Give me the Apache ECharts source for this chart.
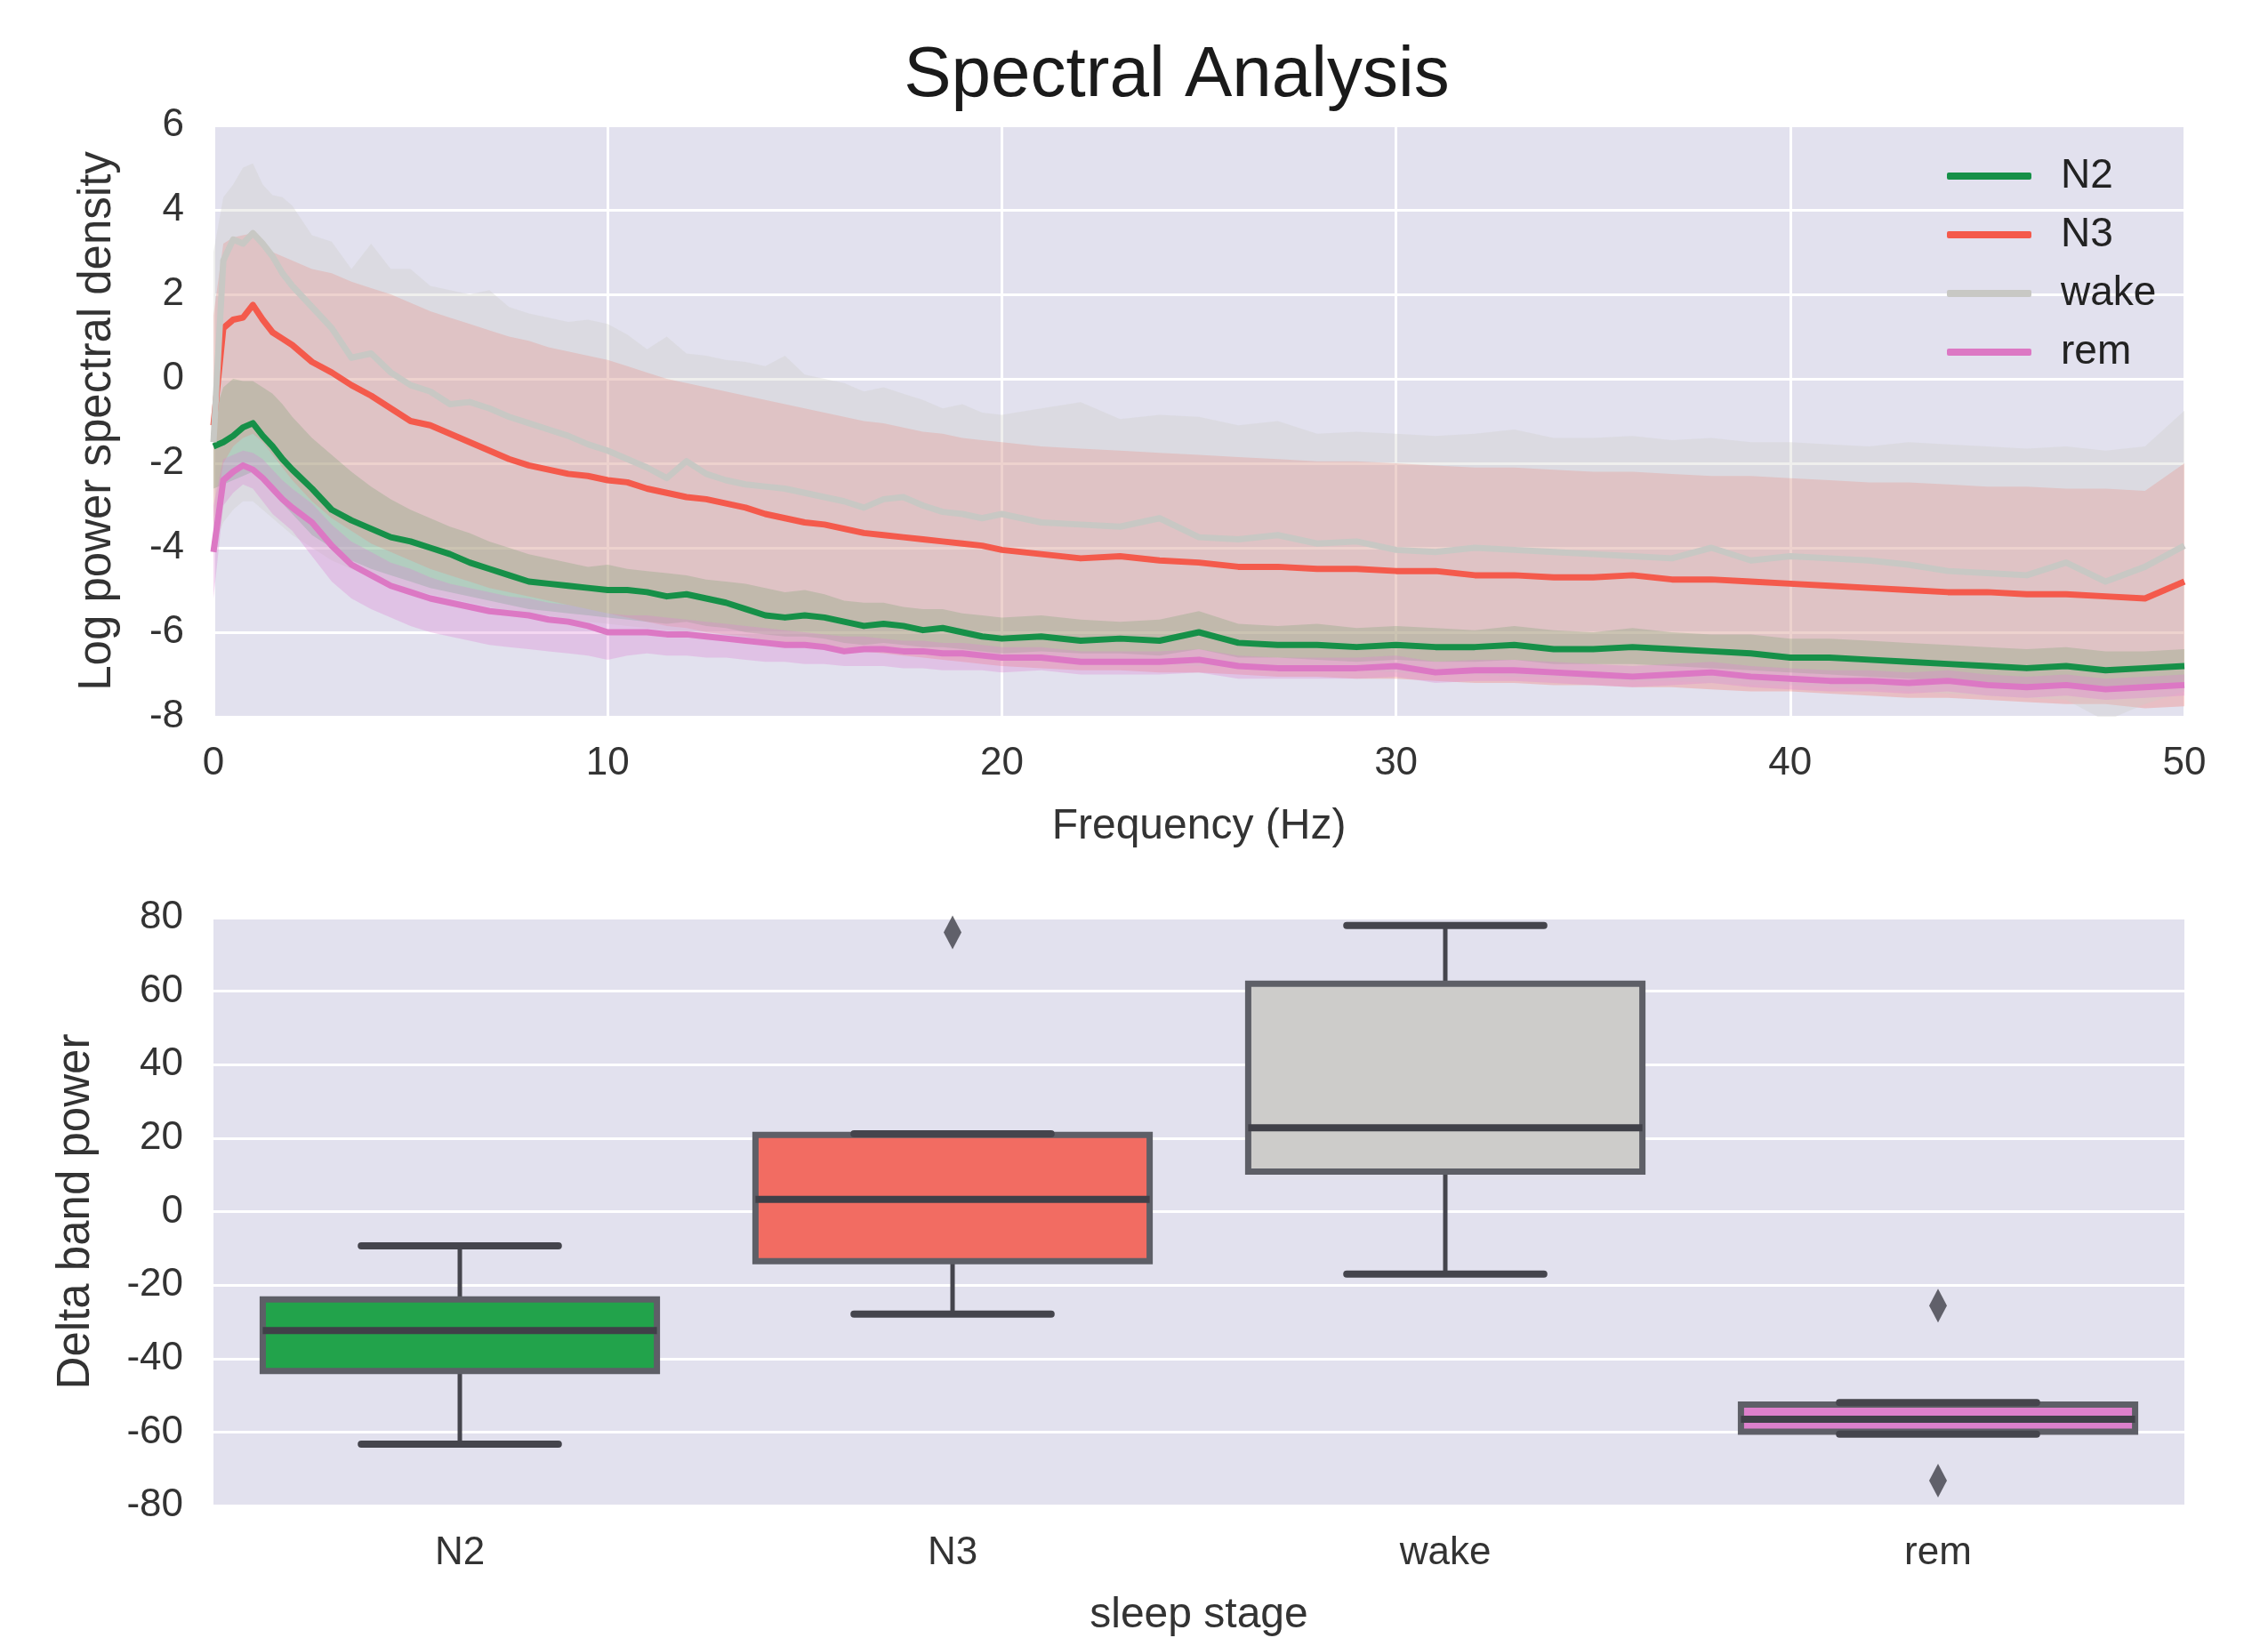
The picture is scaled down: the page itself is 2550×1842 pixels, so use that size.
<!DOCTYPE html>
<html><head><meta charset="utf-8">
<script src="https://cdn.jsdelivr.net/npm/echarts@6/dist/echarts.min.js"></script>
<style>html,body{margin:0;padding:0;background:#fff}#c{width:2550px;height:1842px}</style>
</head><body><div id="c"></div>
<script>
// ---------- DATA ----------
const freqs = [0,0.25,0.5,0.75,1,1.25,1.5,1.75,2,
  2.5,3,3.5,4,4.5,5,5.5,6,6.5,7,7.5,8,8.5,9,9.5,10,10.5,11,11.5,12,12.5,13,13.5,14,14.5,15,15.5,16,16.5,17,17.5,18,18.5,19,19.5,20,
  21,22,23,24,25,26,27,28,29,30,31,32,33,34,35,36,37,38,39,40,41,42,43,44,45,46,47,48,49,50];

const n2Mean = [-1.6,-1.5,-1.35,-1.15,-1.05,-1.35,-1.6,-1.9,-2.15,
  -2.6,-3.1,-3.35,-3.55,-3.75,-3.85,-4.0,-4.15,-4.35,-4.5,-4.65,-4.8,-4.85,-4.9,-4.95,-5.0,-5.0,-5.05,-5.15,-5.1,-5.2,-5.3,-5.45,-5.6,-5.65,-5.6,-5.65,-5.75,-5.85,-5.8,-5.85,-5.95,-5.9,-6.0,-6.1,-6.15,
  -6.1,-6.2,-6.15,-6.2,-6.0,-6.25,-6.3,-6.3,-6.35,-6.3,-6.35,-6.35,-6.3,-6.4,-6.4,-6.35,-6.4,-6.45,-6.5,-6.6,-6.6,-6.65,-6.7,-6.75,-6.8,-6.85,-6.8,-6.9,-6.85,-6.8];
const n2Upper = [-0.9,-0.2,0.0,-0.05,-0.05,-0.2,-0.35,-0.6,-0.9,
  -1.4,-1.8,-2.2,-2.55,-2.85,-3.1,-3.3,-3.5,-3.65,-3.85,-4.0,-4.15,-4.25,-4.35,-4.45,-4.4,-4.5,-4.55,-4.6,-4.65,-4.75,-4.8,-4.85,-4.95,-5.05,-5.0,-5.1,-5.25,-5.3,-5.3,-5.4,-5.45,-5.45,-5.55,-5.6,-5.65,
  -5.6,-5.7,-5.75,-5.7,-5.5,-5.8,-5.85,-5.8,-5.9,-5.85,-5.9,-5.95,-5.85,-5.95,-6.0,-5.9,-6.0,-6.05,-6.05,-6.15,-6.15,-6.2,-6.25,-6.3,-6.35,-6.4,-6.35,-6.45,-6.45,-6.4];
const n2Lower = [-2.6,-2.5,-2.4,-2.3,-2.2,-2.4,-2.7,-2.95,-3.2,
  -3.7,-4.0,-4.3,-4.5,-4.65,-4.8,-4.95,-5.05,-5.15,-5.25,-5.35,-5.45,-5.5,-5.55,-5.6,-5.65,-5.7,-5.75,-5.8,-5.75,-5.85,-5.9,-6.0,-6.05,-6.1,-6.1,-6.15,-6.25,-6.3,-6.25,-6.3,-6.35,-6.35,-6.4,-6.45,-6.5,
  -6.45,-6.5,-6.5,-6.55,-6.4,-6.6,-6.6,-6.65,-6.7,-6.65,-6.7,-6.7,-6.65,-6.75,-6.75,-6.75,-6.8,-6.85,-6.9,-6.95,-7.0,-7.05,-7.1,-7.15,-7.2,-7.25,-7.2,-7.3,-7.25,-7.2];

const n3Mean = [-1.1,1.2,1.4,1.45,1.75,1.4,1.1,0.95,0.8,
  0.4,0.15,-0.15,-0.4,-0.7,-1.0,-1.1,-1.3,-1.5,-1.7,-1.9,-2.05,-2.15,-2.25,-2.3,-2.4,-2.45,-2.6,-2.7,-2.8,-2.85,-2.95,-3.05,-3.2,-3.3,-3.4,-3.45,-3.55,-3.65,-3.7,-3.75,-3.8,-3.85,-3.9,-3.95,-4.05,
  -4.15,-4.25,-4.2,-4.3,-4.35,-4.45,-4.45,-4.5,-4.5,-4.55,-4.55,-4.65,-4.65,-4.7,-4.7,-4.65,-4.75,-4.75,-4.8,-4.85,-4.9,-4.95,-5.0,-5.05,-5.05,-5.1,-5.1,-5.15,-5.2,-4.8];
const n3Upper = [1.5,3.2,3.35,3.4,3.45,3.2,3.0,2.9,2.8,
  2.6,2.5,2.3,2.15,2.0,1.8,1.6,1.45,1.3,1.15,1.0,0.9,0.75,0.65,0.55,0.45,0.3,0.15,0.0,-0.1,-0.2,-0.3,-0.4,-0.5,-0.6,-0.7,-0.8,-0.9,-1.0,-1.05,-1.15,-1.25,-1.3,-1.4,-1.45,-1.5,
  -1.6,-1.65,-1.7,-1.75,-1.8,-1.85,-1.9,-1.95,-1.95,-2.0,-2.05,-2.1,-2.1,-2.15,-2.2,-2.2,-2.25,-2.3,-2.3,-2.35,-2.4,-2.45,-2.45,-2.5,-2.55,-2.55,-2.6,-2.6,-2.65,-2.0];
const n3Lower = [-3.5,-2.0,-1.6,-1.4,-1.3,-1.5,-1.8,-2.1,-2.4,
  -2.9,-3.3,-3.6,-3.9,-4.1,-4.3,-4.5,-4.65,-4.8,-4.95,-5.05,-5.15,-5.25,-5.35,-5.45,-5.55,-5.65,-5.75,-5.85,-5.9,-6.0,-6.05,-6.1,-6.2,-6.25,-6.3,-6.35,-6.4,-6.45,-6.5,-6.55,-6.6,-6.65,-6.7,-6.75,-6.8,
  -6.85,-6.9,-6.9,-6.95,-6.95,-7.0,-7.05,-7.05,-7.1,-7.1,-7.15,-7.2,-7.2,-7.25,-7.25,-7.3,-7.3,-7.35,-7.4,-7.4,-7.45,-7.5,-7.55,-7.55,-7.6,-7.65,-7.7,-7.7,-7.8,-7.75];

const wakeMean = [-1.5,2.8,3.3,3.2,3.45,3.2,2.9,2.5,2.2,
  1.7,1.2,0.5,0.6,0.15,-0.15,-0.3,-0.6,-0.55,-0.7,-0.9,-1.05,-1.2,-1.35,-1.55,-1.7,-1.9,-2.1,-2.35,-1.95,-2.25,-2.4,-2.5,-2.55,-2.6,-2.7,-2.8,-2.9,-3.05,-2.85,-2.8,-3.0,-3.15,-3.2,-3.3,-3.2,
  -3.4,-3.45,-3.5,-3.3,-3.75,-3.8,-3.7,-3.9,-3.85,-4.05,-4.1,-4.0,-4.05,-4.1,-4.15,-4.2,-4.25,-4.0,-4.3,-4.2,-4.25,-4.3,-4.4,-4.55,-4.6,-4.65,-4.35,-4.8,-4.45,-3.95];
const wakeUpper = [3.0,4.3,4.6,5.0,5.1,4.6,4.35,4.3,4.1,
  3.4,3.25,2.6,3.2,2.6,2.6,2.2,2.1,2.0,2.1,1.7,1.55,1.45,1.35,1.4,1.3,1.05,0.7,1.0,0.6,0.55,0.45,0.4,0.3,0.55,0.1,0.0,-0.1,-0.3,-0.2,-0.35,-0.5,-0.7,-0.6,-0.8,-0.85,
  -0.7,-0.55,-0.95,-0.85,-0.9,-1.1,-1.0,-1.3,-1.25,-1.3,-1.35,-1.3,-1.2,-1.4,-1.4,-1.35,-1.45,-1.4,-1.5,-1.5,-1.55,-1.6,-1.5,-1.55,-1.6,-1.65,-1.6,-1.7,-1.6,-0.75];
const wakeLower = [-4.0,-3.4,-3.1,-2.9,-2.9,-3.1,-3.3,-3.5,-3.7,
  -4.0,-4.3,-4.5,-4.7,-4.85,-5.0,-5.1,-5.2,-5.3,-5.4,-5.5,-5.55,-5.6,-5.7,-5.75,-5.8,-5.85,-5.9,-5.95,-6.0,-6.05,-6.1,-6.15,-6.2,-6.2,-6.25,-6.3,-6.35,-6.35,-6.4,-6.45,-6.5,-6.5,-6.55,-6.55,-6.6,
  -6.65,-6.7,-6.7,-6.75,-6.8,-6.8,-6.85,-6.9,-6.9,-6.95,-7.0,-7.0,-7.05,-7.05,-7.1,-7.15,-7.15,-7.2,-7.25,-7.25,-7.3,-7.35,-7.4,-7.45,-7.5,-7.55,-7.6,-8.1,-7.7,-7.4];

const remMean = [-4.1,-2.4,-2.2,-2.05,-2.15,-2.35,-2.6,-2.85,-3.05,
  -3.4,-3.95,-4.4,-4.65,-4.9,-5.05,-5.2,-5.3,-5.4,-5.5,-5.55,-5.6,-5.7,-5.75,-5.85,-6.0,-6.0,-6.0,-6.05,-6.05,-6.1,-6.15,-6.2,-6.25,-6.3,-6.3,-6.35,-6.45,-6.4,-6.4,-6.45,-6.45,-6.5,-6.5,-6.55,-6.6,
  -6.6,-6.7,-6.7,-6.7,-6.65,-6.8,-6.85,-6.85,-6.85,-6.8,-6.95,-6.9,-6.9,-6.95,-7.0,-7.05,-7.0,-6.95,-7.05,-7.1,-7.15,-7.15,-7.2,-7.15,-7.25,-7.3,-7.25,-7.35,-7.3,-7.25];
const remUpper = [-3.0,-1.9,-1.8,-1.7,-1.75,-1.9,-2.15,-2.4,-2.6,
  -2.95,-3.45,-3.85,-4.1,-4.35,-4.5,-4.7,-4.85,-4.95,-5.05,-5.15,-5.2,-5.3,-5.35,-5.45,-5.55,-5.6,-5.6,-5.65,-5.7,-5.75,-5.8,-5.85,-5.9,-5.95,-6.0,-6.05,-6.1,-6.1,-6.15,-6.2,-6.2,-6.25,-6.25,-6.3,-6.35,
  -6.35,-6.45,-6.45,-6.45,-6.4,-6.55,-6.6,-6.6,-6.6,-6.55,-6.7,-6.65,-6.65,-6.7,-6.75,-6.8,-6.75,-6.7,-6.8,-6.85,-6.9,-6.9,-6.95,-6.9,-7.0,-7.05,-7.0,-7.1,-7.05,-7.0];
const remLower = [-5.2,-3.0,-2.7,-2.5,-2.6,-2.9,-3.2,-3.4,-3.6,
  -4.2,-4.8,-5.2,-5.45,-5.65,-5.85,-6.0,-6.1,-6.2,-6.3,-6.35,-6.4,-6.45,-6.5,-6.55,-6.65,-6.55,-6.5,-6.55,-6.55,-6.6,-6.6,-6.65,-6.7,-6.7,-6.75,-6.75,-6.8,-6.8,-6.8,-6.85,-6.85,-6.9,-6.9,-6.9,-6.95,
  -6.9,-7.0,-7.0,-7.0,-6.95,-7.1,-7.1,-7.1,-7.1,-7.05,-7.2,-7.15,-7.15,-7.2,-7.25,-7.3,-7.25,-7.2,-7.3,-7.35,-7.4,-7.4,-7.45,-7.4,-7.5,-7.55,-7.5,-7.6,-7.55,-7.5];

const stages = ['N2', 'N3', 'wake', 'rem'];
// box stats: [lowerWhisker, Q1, median, Q3, upperWhisker]
const boxN2 = [-63.3, -43.4, -32.4, -23.9, -9.3];
const boxN3 = [-27.9, -13.5, 3.3, 20.9, 21.2];
const boxWake = [-17.0, 10.9, 22.8, 62.0, 77.9];
const boxRem = [-60.6, -59.9, -56.5, -52.5, -52.0];
const outliers = [['N3', 76.0], ['rem', -25.6], ['rem', -73.2]];

// ---------- STYLE ----------
const FONT = 'Liberation Sans';
const lineColors = { N2: '#169048', N3: '#f45a4c', wake: '#c8c8c4', rem: '#dc78c4' };
const bandColors = { N2: 'rgba(22,160,72,0.30)', N3: 'rgba(248,100,90,0.28)', wake: 'rgba(205,205,200,0.32)', rem: 'rgba(222,130,210,0.32)' };
const boxColors = { N2: '#22a34b', N3: '#f26c62', wake: '#cdccca', rem: '#dd80cc' };
const bg = '#e2e1ee';
const tickColor = '#333333';

const spectra = {
  N2: { mean: n2Mean, up: n2Upper, lo: n2Lower },
  N3: { mean: n3Mean, up: n3Upper, lo: n3Lower },
  wake: { mean: wakeMean, up: wakeUpper, lo: wakeLower },
  rem: { mean: remMean, up: remUpper, lo: remLower }
};
const boxes = { N2: boxN2, N3: boxN3, wake: boxWake, rem: boxRem };

const series = [];
// confidence bands as polygons (upper edge forward, lower edge back)
stages.forEach(s => {
  const d = spectra[s];
  series.push({
    type: 'custom', name: s + ' band', xAxisIndex: 0, yAxisIndex: 0, clip: true, silent: true, z: 1, animation: false,
    data: freqs.map((f, i) => [f, d.lo[i], d.up[i]]),
    renderItem: function (params, api) {
      if (params.dataIndex !== 0) return null;
      const pts = [];
      for (let i = 0; i < freqs.length; i++) pts.push(api.coord([freqs[i], d.up[i]]));
      for (let i = freqs.length - 1; i >= 0; i--) pts.push(api.coord([freqs[i], d.lo[i]]));
      return { type: 'polygon', shape: { points: pts }, style: { fill: bandColors[s] } };
    }
  });
});
stages.forEach(s => {
  series.push({
    type: 'line', name: s, xAxisIndex: 0, yAxisIndex: 0,
    data: freqs.map((f, i) => [f, spectra[s].mean[i]]), showSymbol: false,
    lineStyle: { width: 7, color: lineColors[s], join: 'round' }, itemStyle: { color: lineColors[s] }, z: 3, animation: false
  });
});

series.push({
  type: 'custom', xAxisIndex: 1, yAxisIndex: 1, animation: false, z: 3,
  data: stages.map(s => [s].concat(boxes[s])),
  renderItem: function (params, api) {
    const cat = api.value(0);
    const lo = api.value(1), q1 = api.value(2), med = api.value(3), q3 = api.value(4), hi = api.value(5);
    const pMed = api.coord([cat, med]);
    const cx = pMed[0];
    const bw = api.size([1, 0])[0] * 0.8;
    const yq1 = api.coord([cat, q1])[1], yq3 = api.coord([cat, q3])[1];
    const ylo = api.coord([cat, lo])[1], yhi = api.coord([cat, hi])[1];
    const s = stages[params.dataIndex];
    const wStyle = { stroke: '#45454d', lineWidth: 5 };
    const capStyle = { stroke: '#45454d', lineWidth: 8, lineCap: 'round' };
    return {
      type: 'group', children: [
        { type: 'line', shape: { x1: cx, y1: yq3, x2: cx, y2: yhi }, style: wStyle },
        { type: 'line', shape: { x1: cx, y1: yq1, x2: cx, y2: ylo }, style: wStyle },
        { type: 'rect', shape: { x: cx - bw / 2, y: yq3, width: bw, height: yq1 - yq3 },
          style: { fill: boxColors[s], stroke: '#5e5f67', lineWidth: 7 } },
        { type: 'line', shape: { x1: cx - bw / 2, y1: pMed[1], x2: cx + bw / 2, y2: pMed[1] }, style: { stroke: '#404048', lineWidth: 8 } },
        { type: 'line', shape: { x1: cx - bw / 4, y1: yhi, x2: cx + bw / 4, y2: yhi }, style: capStyle },
        { type: 'line', shape: { x1: cx - bw / 4, y1: ylo, x2: cx + bw / 4, y2: ylo }, style: capStyle }
      ]
    };
  }
});
series.push({
  type: 'scatter', xAxisIndex: 1, yAxisIndex: 1, data: outliers, z: 4, animation: false,
  symbol: 'path://M0,-1L0.55,0L0,1L-0.55,0Z', symbolSize: [20, 38], itemStyle: { color: '#404048' }
});

const chart = echarts.init(document.getElementById('c'), null, { renderer: 'canvas' });
chart.setOption({
  backgroundColor: '#ffffff',
  textStyle: { fontFamily: FONT },
  animation: false,
  graphic: [{
    type: 'text', x: 1323, y: 86,
    style: { text: 'Spectral Analysis', fontSize: 80, fontFamily: FONT, fill: '#1a1a1a', textAlign: 'center', textVerticalAlign: 'middle' }
  }],
  legend: {
    data: stages, orient: 'vertical', left: 2184, top: 170, itemWidth: 95, itemHeight: 8, itemGap: 20,
    icon: 'roundRect',
    textStyle: { fontSize: 46, color: '#222222', fontFamily: FONT, lineHeight: 46, padding: [0, 0, 0, 28] }
  },
  grid: [
    { left: 240, top: 141, width: 2216, height: 665, backgroundColor: bg, show: true, borderWidth: 0 },
    { left: 240, top: 1032, width: 2216, height: 665, backgroundColor: bg, show: true, borderWidth: 0 }
  ],
  xAxis: [
    { gridIndex: 0, type: 'value', min: 0, max: 50, interval: 10,
      axisLine: { show: false }, axisTick: { show: false },
      axisLabel: { fontSize: 44, color: tickColor, margin: 31 },
      splitLine: { show: true, lineStyle: { color: '#ffffff', width: 3 } },
      name: 'Frequency (Hz)', nameLocation: 'middle', nameGap: 100,
      nameTextStyle: { fontSize: 48, color: tickColor } },
    { gridIndex: 1, type: 'category', data: stages, boundaryGap: true,
      axisLine: { show: false }, axisTick: { show: false },
      axisLabel: { fontSize: 44, color: tickColor, margin: 32 },
      splitLine: { show: false },
      name: 'sleep stage', nameLocation: 'middle', nameGap: 100,
      nameTextStyle: { fontSize: 48, color: tickColor } }
  ],
  yAxis: [
    { gridIndex: 0, type: 'value', min: -8, max: 6, interval: 2,
      axisLine: { show: false }, axisTick: { show: false },
      axisLabel: { fontSize: 44, color: tickColor, margin: 33 },
      splitLine: { show: true, lineStyle: { color: '#ffffff', width: 3 } },
      name: 'Log power spectral density', nameLocation: 'middle', nameGap: 105, nameRotate: 90,
      nameTextStyle: { fontSize: 51, color: tickColor } },
    { gridIndex: 1, type: 'value', min: -80, max: 80, interval: 20,
      axisLine: { show: false }, axisTick: { show: false },
      axisLabel: { fontSize: 44, color: tickColor, margin: 34 },
      splitLine: { show: true, lineStyle: { color: '#ffffff', width: 3 } },
      name: 'Delta band power', nameLocation: 'middle', nameGap: 129, nameRotate: 90,
      nameTextStyle: { fontSize: 51, color: tickColor } }
  ],
  series: series
});
</script>
</body></html>
